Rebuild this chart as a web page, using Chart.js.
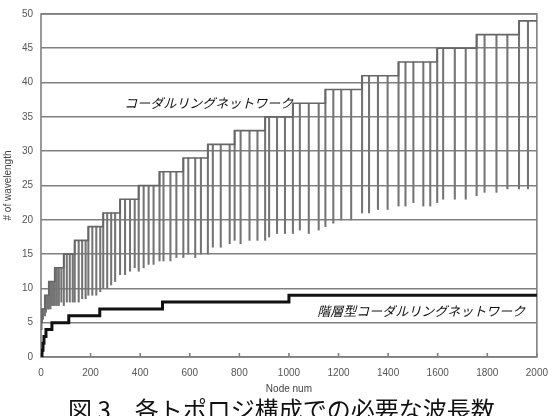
<!DOCTYPE html>
<html lang="ja">
<head>
<meta charset="utf-8">
<title>各トポロジ構成での必要な波長数</title>
<script src="https://cdn.jsdelivr.net/npm/chart.js@4.4.1/dist/chart.umd.min.js"></script>
<style>
  html, body { margin: 0; padding: 0; background: #fff; overflow: hidden; }
  #wrap { position: relative; width: 558px; height: 416px; }
  #caption {
    position: absolute; left: 68px; top: 397px;
    font: 24px "Noto Sans CJK JP", sans-serif; line-height: 24px;
    white-space: nowrap; color: #111;
  }
</style>
</head>
<body>
<div id="wrap">
  <canvas id="chart" width="558" height="416"></canvas>
  <div id="caption">図 3　各トポロジ構成での必要な波長数</div>
</div>
<script>
// ---- chordal ring: for each node count, the range (min..max) of wavelengths
const ccNodes = [
  2,
  4, 8, 12,
  16, 20, 24, 28,
  32, 38, 44, 50,
  56, 64, 72, 82,
  92, 104, 116, 128,
  136, 152, 166, 180,
  191, 207, 223, 239,
  251, 267, 283, 299,
  319, 339, 359, 378,
  394, 414, 434, 454,
  478, 494, 522, 546,
  574, 594, 622, 645,
  673, 693, 725, 761,
  781, 805, 841, 873,
  904, 920, 952, 984,
  1016, 1044, 1080, 1120,
  1147, 1179, 1211, 1251,
  1295, 1323, 1359, 1398,
  1442, 1470, 1502, 1542, 1570,
  1598, 1622, 1669, 1713,
  1757, 1789, 1837, 1881,
  1928, 1964
];
const ccMax = [
  5,
  7, 7, 7,
  9, 9, 9, 9,
  11, 11, 11, 11,
  13, 13, 13, 13,
  15, 15, 15, 15,
  17, 17, 17, 17,
  19, 19, 19, 19,
  21, 21, 21, 21,
  23, 23, 23, 23,
  25, 25, 25, 25,
  27, 27, 27, 27,
  29, 29, 29, 29,
  31, 31, 31, 31,
  33, 33, 33, 33,
  35, 35, 35, 35,
  37, 37, 37, 37,
  39, 39, 39, 39,
  41, 41, 41, 41,
  43, 43, 43, 43, 43,
  45, 45, 45, 45,
  47, 47, 47, 47,
  49, 49
];
const ccMin = [
  4,
  5, 5.5, 6,
  6, 6.5, 7, 7,
  7, 7, 7.5, 7.5,
  7.5, 7.5, 7.5, 8,
  7.5, 8, 8, 8,
  8, 8, 8.5, 8.5,
  9, 9, 9, 9.5,
  10, 10, 10.5, 11,
  12, 12, 12.5, 13,
  12.5, 13, 13.5, 13.5,
  14, 14, 14, 14.5,
  14.5, 15, 14.5, 15,
  15, 16, 16, 16.5,
  17, 16.5, 17, 17,
  17, 17.5, 18, 18,
  18, 18.5, 18, 18.5,
  19, 19.5, 20, 20,
  21, 21, 21.5, 21.5,
  22, 22, 22.5, 22, 22,
  22.5, 23, 23, 23,
  23.5, 24, 24, 24.5,
  24.5, 24.5
];

// ---- hierarchical chordal ring
const hcNodes = [0, 4, 8, 12, 20, 44, 112, 237, 490, 1000, 2000];
const hcWave  = [0, 1, 2, 3, 4, 5, 6, 7, 8, 9, 9];

const seriesNames = ["コーダルリングネットワーク", "階層型コーダルリングネットワーク"];

// axes
const xMax = 2000, xStep = 200;
const yMax = 50, yStep = 5;

const tickFont = { family: "'Liberation Sans', Arial, sans-serif", size: 10 };

// frame, short inner ticks and the in-plot series names
const decorations = {
  id: "decorations",
  beforeDatasetsDraw(chart) {
    const { ctx, chartArea: a, scales: { x } } = chart;
    ctx.save();
    ctx.strokeStyle = "#808080";
    ctx.lineWidth = 1.6;
    ctx.strokeRect(a.left, a.top, a.right - a.left, a.bottom - a.top);
    ctx.beginPath();
    x.ticks.forEach(function (t) {
      const px = x.getPixelForValue(t.value);
      ctx.moveTo(px, a.bottom);
      ctx.lineTo(px, a.bottom - 4);
    });
    ctx.stroke();
    ctx.restore();
  },
  afterDraw(chart) {
    const { ctx, scales: { x, y } } = chart;
    ctx.save();
    ctx.fillStyle = "#111";
    ctx.font = "italic 13px 'Noto Sans CJK JP', sans-serif";
    ctx.textAlign = "center";
    ctx.textBaseline = "middle";
    ctx.fillText(seriesNames[0], x.getPixelForValue(677), y.getPixelForValue(37));
    ctx.fillText(seriesNames[1], x.getPixelForValue(1534), y.getPixelForValue(6.7));
    ctx.restore();
  }
};

const envelope = ccNodes.map(function (n, i) { return { x: n, y: ccMax[i] }; });
envelope.push({ x: xMax, y: ccMax[ccMax.length - 1] });

new Chart(document.getElementById("chart"), {
  type: "line",
  data: {
    datasets: [
      {
        label: seriesNames[1],
        data: hcNodes.map(function (n, i) { return { x: n, y: hcWave[i] }; }),
        borderColor: "#111",
        borderWidth: 3,
        stepped: true,
        pointRadius: 0,
        fill: false
      },
      {
        label: seriesNames[0],
        data: envelope,
        borderColor: "#666",
        borderWidth: 1.6,
        stepped: true,
        pointRadius: 0,
        fill: false
      },
      {
        type: "bar",
        label: seriesNames[0] + " range",
        data: ccNodes.map(function (n, i) { return { x: n, y: [ccMin[i], ccMax[i]] }; }),
        backgroundColor: "#747474",
        borderWidth: 0,
        barThickness: 1.4
      }
    ]
  },
  options: {
    responsive: false,
    animation: false,
    layout: { padding: { top: 6, right: 15, bottom: 21, left: 0 } },
    plugins: { legend: { display: false }, tooltip: { enabled: false } },
    scales: {
      x: {
        type: "linear",
        min: 0,
        max: xMax,
        offset: false,
        ticks: {
          stepSize: xStep, color: "#555", font: tickFont, padding: 10, maxRotation: 0,
          callback: function (v) { return String(v); }
        },
        grid: { display: false, drawTicks: false },
        border: { display: false },
        title: { display: true, text: "Node num", color: "#444", font: tickFont, padding: { top: 0, bottom: 0 } },
        afterFit: function (scale) { scale.height = 38; }
      },
      y: {
        min: 0,
        max: yMax,
        ticks: { stepSize: yStep, color: "#555", font: tickFont, padding: 8 },
        grid: { color: "#808080", lineWidth: 1.6, drawTicks: false },
        border: { display: false },
        title: { display: true, text: "# of wavelength", color: "#444", font: tickFont, padding: { top: 2, bottom: 0 } },
        afterFit: function (scale) { scale.width = 41; }
      }
    }
  },
  plugins: [decorations]
});
</script>
</body>
</html>
